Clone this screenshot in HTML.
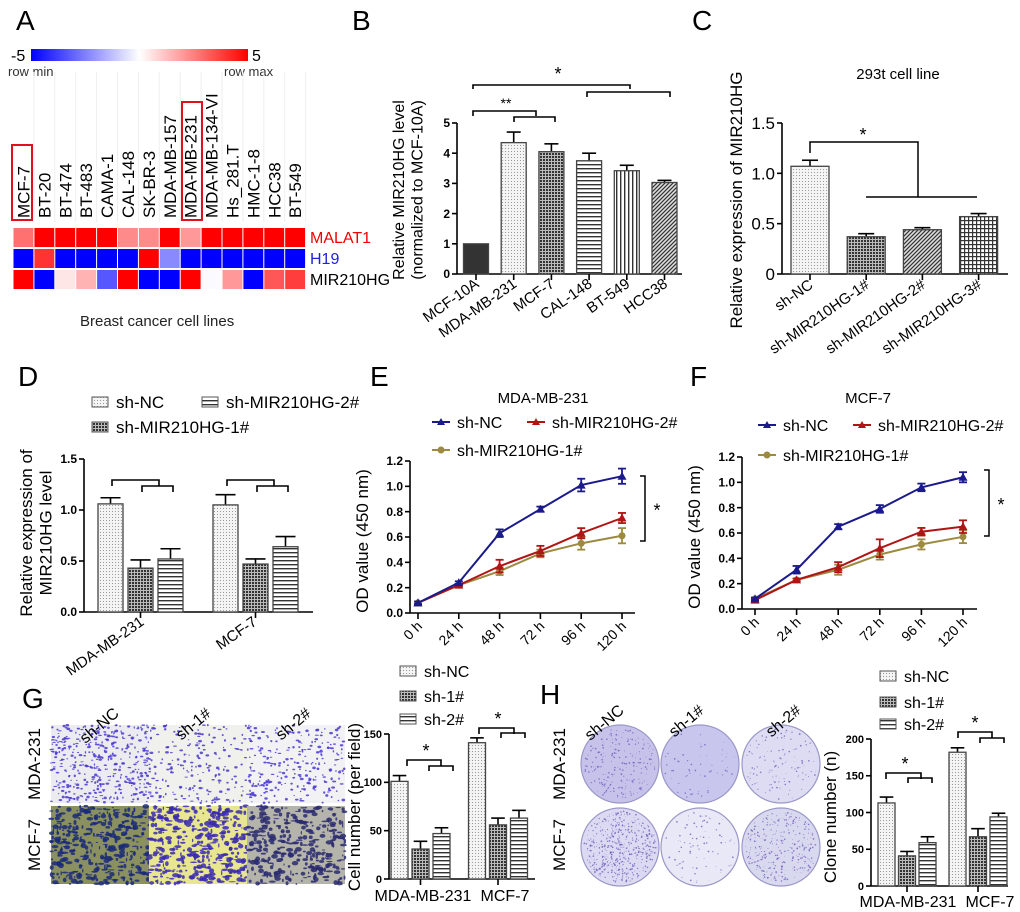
<!DOCTYPE html>
<html><head><meta charset="utf-8"><style>
html,body{margin:0;padding:0;background:#fff;}
svg{display:block;font-family:"Liberation Sans",Arial,sans-serif;}
</style></head><body>
<svg id="fig" width="1020" height="912" viewBox="0 0 1020 912" xmlns="http://www.w3.org/2000/svg">
<defs>
<pattern id="p-dots" width="3" height="3" patternUnits="userSpaceOnUse"><rect width="3" height="3" fill="#f4f4f4"/><rect x="1" y="1" width="1" height="1" fill="#999"/></pattern>
<pattern id="p-cross" width="3" height="3" patternUnits="userSpaceOnUse"><rect width="3" height="3" fill="#bbb"/><rect width="2" height="2" fill="#333"/></pattern>
<pattern id="p-hstripe" width="4" height="4" patternUnits="userSpaceOnUse"><rect width="4" height="4" fill="#fff"/><rect y="0" width="4" height="1.4" fill="#333"/></pattern>
<pattern id="p-vstripe" width="4" height="4" patternUnits="userSpaceOnUse"><rect width="4" height="4" fill="#fff"/><rect x="0" width="1.4" height="4" fill="#333"/></pattern>
<pattern id="p-diag" width="4" height="4" patternUnits="userSpaceOnUse"><rect width="4" height="4" fill="#ddd"/><path d="M-1,1 L1,-1 M0,4 L4,0 M3,5 L5,3" stroke="#333" stroke-width="1.2"/></pattern>
<pattern id="p-grid" width="4" height="4" patternUnits="userSpaceOnUse"><rect width="4" height="4" fill="#fff"/><rect width="4" height="1.2" fill="#333"/><rect width="1.2" height="4" fill="#333"/></pattern>
<linearGradient id="cbar" x1="0" x2="1" y1="0" y2="0"><stop offset="0" stop-color="#0000ff"/><stop offset="0.5" stop-color="#ffffff"/><stop offset="1" stop-color="#ff0000"/></linearGradient>
</defs>

<g>
<text x="16" y="30" font-size="28">A</text>
<rect x="31" y="49" width="217" height="12" fill="url(#cbar)"/>
<text x="11" y="61" font-size="16">-5</text>
<text x="252" y="61" font-size="16">5</text>
<text x="8" y="76" font-size="13" fill="#333">row min</text>
<text x="224" y="76" font-size="13" fill="#333">row max</text>
<text x="80" y="326" font-size="15" fill="#222">Breast cancer cell lines</text>
<g id="heat"></g>
</g>

<text x="352" y="30" font-size="28">B</text>
<text x="692" y="30" font-size="28">C</text>
<text x="18" y="386" font-size="28">D</text>
<text x="370" y="386" font-size="28">E</text>
<text x="690" y="386" font-size="28">F</text>
<text x="22" y="708" font-size="28">G</text>
<text x="540" y="704" font-size="28">H</text>

<text x="898" y="79" font-size="15" text-anchor="middle">293t cell line</text>
<text x="543" y="403" font-size="15" text-anchor="middle">MDA-MB-231</text>
<text x="868" y="403" font-size="15" text-anchor="middle">MCF-7</text>

<g id="images"></g>
<g id="charts"></g>
</svg>
<script>
// ---------- DATA ----------
const heatCols=['MCF-7','BT-20','BT-474','BT-483','CAMA-1','CAL-148','SK-BR-3','MDA-MB-157','MDA-MB-231','MDA-MB-134-VI','Hs_281.T','HMC-1-8','HCC38','BT-549'];
const heatRows=['MALAT1','H19','MIR210HG'];
const heatMALAT1=[2.8,5,5,5,5,2.3,2.3,5,2,5,5,5,5,5];
const heatH19=[-5,4,-5,-5,-5,-5,5,-2.3,-5,-5,-5,-5,-5,-5];
const heatMIR210HG=[5,-5,0.5,1.5,-3.3,5,-5,-5,5,-0.1,2,-5,3.3,3.8];

const bCats=['MCF-10A','MDA-MB-231','MCF-7','CAL-148','BT-549','HCC38'];
const bVals=[1.0,4.35,4.05,3.75,3.42,3.03];
const bErr=[0,0.35,0.26,0.25,0.18,0.07];
const bTicks=[0,1,2,3,4,5];

const cCats=['sh-NC','sh-MIR210HG-1#','sh-MIR210HG-2#','sh-MIR210HG-3#'];
const cVals=[1.07,0.37,0.44,0.57];
const cErr=[0.06,0.03,0.02,0.03];
const cTicks=[0,0.5,1.0,1.5];

const dGroups=['MDA-MB-231','MCF-7'];
const dNC=[1.06,1.05];
const d1=[0.43,0.47];
const d2=[0.52,0.64];
const dNCerr=[0.06,0.10];
const d1err=[0.08,0.05];
const d2err=[0.10,0.10];
const dTicks=[0,0.5,1.0,1.5];

const timeCats=['0 h','24 h','48 h','72 h','96 h','120 h'];
const odTicks=[0,0.2,0.4,0.6,0.8,1.0,1.2];
const eNC=[0.08,0.24,0.63,0.82,1.01,1.08];
const e2=[0.08,0.22,0.37,0.49,0.63,0.75];
const e1=[0.08,0.22,0.33,0.47,0.55,0.61];
const eNCerr=[0.01,0.01,0.03,0.02,0.05,0.06];
const e2err=[0.01,0.01,0.05,0.04,0.04,0.04];
const e1err=[0.01,0.01,0.03,0.03,0.05,0.06];
const fNC=[0.08,0.31,0.65,0.79,0.96,1.04];
const f2=[0.07,0.23,0.33,0.48,0.61,0.65];
const f1=[0.08,0.23,0.31,0.43,0.51,0.57];
const fNCerr=[0.01,0.03,0.02,0.03,0.03,0.04];
const f2err=[0.01,0.01,0.04,0.07,0.03,0.05];
const f1err=[0.01,0.01,0.04,0.04,0.04,0.05];

const gGroups=['MDA-MB-231','MCF-7'];
const gNC=[101,141];
const g1=[31,56];
const g2=[47,63];
const gNCerr=[6,5];
const g1err=[8,7];
const g2err=[6,8];
const gTicks=[0,50,100,150];

const hGroups=['MDA-MB-231','MCF-7'];
const hNC=[113,182];
const h1=[41,67];
const h2=[59,94];
const hNCerr=[8,6];
const h1err=[6,11];
const h2err=[8,5];
const hTicks=[0,50,100,150,200];

// ---------- HELPERS ----------
const NS='http://www.w3.org/2000/svg';
function mk(parent,tag,attrs,txt){const e=document.createElementNS(NS,tag);for(const k in attrs)e.setAttribute(k,attrs[k]);if(txt!==undefined)e.textContent=txt;parent.appendChild(e);return e;}
const charts=document.getElementById('charts');
function line(p,x1,y1,x2,y2,w,c){return mk(p,'line',{x1,y1,x2,y2,stroke:c||'#000','stroke-width':w||1.5});}

function yAxis(g,ax,y0,yTop,vmax,ticks,fmt,fs,bold){
  const sy=v=>y0-(v/vmax)*(y0-yTop);
  const a=line(g,ax,y0,ax,yTop,1.6);
  
  
  ticks.forEach(t=>{
    line(g,ax-5,sy(t),ax,sy(t),1.6);
    const tx=mk(g,'text',{x:ax-7,y:sy(t)+fs*0.35,'font-size':fs,'text-anchor':'end','font-weight':bold?'bold':'normal'},fmt(t));
    
    
  });
  return sy;
}
function bar(g,x,w,y0,yv,fill,name){
  const r=mk(g,'rect',{x:x-w/2,y:yv,width:w,height:y0-yv,fill:fill,stroke:'#444','stroke-width':1.3});
  
  
  return r;
}
function errUp(g,x,yv,ye,cap){line(g,x,yv,x,ye,1.6);line(g,x-cap,ye,x+cap,ye,1.6);}
function ylabel(g,x,y,lines,fs,name){
  const t=mk(g,'text',{transform:`translate(${x},${y}) rotate(-90)`,'font-size':fs,'text-anchor':'middle'});
  lines.forEach((l,i)=>mk(t,'tspan',{x:0,dy:i?fs*1.15:0},l));
  
  
}
function rotLabel(g,x,y,txt,fs,ang,name){
  const t=mk(g,'text',{transform:`translate(${x},${y}) rotate(${ang})`,'font-size':fs,'text-anchor':'end'},txt);
  
  
}
function bracket(g,x1,x2,y,drop){const p=mk(g,'path',{d:`M${x1},${y+drop} L${x1},${y} L${x2},${y} L${x2},${y+drop}`,fill:'none',stroke:'#000','stroke-width':1.6});}
function star(g,x,y,s,fs){const t=mk(g,'text',{x,y,'font-size':fs||18,'text-anchor':'middle'},s);}

// ---------- HEATMAP ----------
(function(){
  const g=document.getElementById('heat');
  const x0=13,cw=20.9;
  const rowsData=[heatMALAT1,heatH19,heatMIR210HG];
  const rowY=[228,249,270],rh=19;
  function col(v){const t=Math.min(1,Math.abs(v)/5);const m=Math.round(255*(1-t));return v>=0?`rgb(255,${m},${m})`:`rgb(${m},${m},255)`;}
  heatCols.forEach((c,i)=>{
    const cx=x0+cw*i+cw/2;
    line(g,x0+cw*(i+1),72,x0+cw*(i+1),222,1,'#eee');
    const t=mk(g,'text',{transform:`translate(${cx+6},218) rotate(-90)`,'font-size':17},c);
    
    
  });
  rowsData.forEach((arr,r)=>{
    arr.forEach((v,i)=>{
      const rc=mk(g,'rect',{x:x0+cw*i+0.5,y:rowY[r],width:cw-1,height:rh,fill:col(v)});
      
      
    });
    const t=mk(g,'text',{x:310,y:rowY[r]+15,'font-size':16,fill:['#f00000','#2020e0','#000'][r]},heatRows[r]);
    
    
  });
  const b1=mk(g,'rect',{x:12,y:145,width:20,height:75,fill:'none',stroke:'#e01020','stroke-width':2});
  
  
  const b2=mk(g,'rect',{x:182,y:102,width:20,height:118,fill:'none',stroke:'#e01020','stroke-width':2});
  
  
})();

// ---------- CHART B ----------
(function(){
  const g=mk(charts,'g',{});
  
  
  const fills=['#333','url(#p-dots)','url(#p-cross)','url(#p-hstripe)','url(#p-vstripe)','url(#p-diag)'];
  const sy=yAxis(g,457,274,123,5,bTicks,t=>String(t),12,true);
  line(g,457,274,682,274,1.6);
  const sx=i=>476+i*37.7;
  bCats.forEach((c,i)=>{
    const x=sx(i);
    if(bErr[i]>0)errUp(g,x,sy(bVals[i]),sy(bVals[i]+bErr[i]),7);
    bar(g,x,25,274,sy(bVals[i]),fills[i],'bar-'+c.toLowerCase());
    line(g,x,274,x,280,1.6);
    rotLabel(g,x+4,286,c,15,-35,'x-tick-label');
  });
  ylabel(g,404,190,['Relative MIR210HG level','(normalized to MCF-10A)'],16,'y-axis-title');
  bracket(g,473,630,85,4);bracket(g,587,670,92,5);star(g,558,80,'*');
  bracket(g,473,536,111,5);bracket(g,514,555,117,5);star(g,506,108,'**',14);
})();

// ---------- CHART C ----------
(function(){
  const g=mk(charts,'g',{});
  
  
  const fills=['url(#p-dots)','url(#p-cross)','url(#p-diag)','url(#p-grid)'];
  const sy=yAxis(g,782,274,123,1.5,cTicks,t=>t===0?'0':t.toFixed(1),17,false);
  line(g,782,274,1008,274,1.6);
  const sx=i=>810+i*56.2;
  cCats.forEach((c,i)=>{
    const x=sx(i);
    errUp(g,x,sy(cVals[i]),sy(cVals[i]+cErr[i]),8);
    bar(g,x,38,274,sy(cVals[i]),fills[i],'bar-'+c.toLowerCase());
    line(g,x,274,x,280,1.6);
    rotLabel(g,x+4,287,c,15,-35,'x-tick-label');
  });
  ylabel(g,742,200,['Relative expression of MIR210HG'],17,'y-axis-title');
  const p=mk(g,'path',{d:'M810,153 L810,142 L918,142 L918,197 M866,197 L977,197',fill:'none',stroke:'#000','stroke-width':1.5});
  
  
  star(g,863,141,'*');
})();

// ---------- GROUPED BAR helper ----------
function grouped(cfg){
  const g=mk(charts,'g',{});
  
  
  const sy=yAxis(g,cfg.ax,cfg.y0,cfg.yTop,cfg.vmax,cfg.ticks,cfg.fmt,cfg.fs||12,true);
  line(g,cfg.ax,cfg.y0,cfg.axR,cfg.y0,1.6);
  const fills=['url(#p-dots)','url(#p-cross)','url(#p-hstripe)'];
  cfg.groups.forEach((gr,j)=>{
    const cx=cfg.gx[j];
    cfg.series.forEach((s,k)=>{
      const x=cx+cfg.off*(k-1);
      errUp(g,x,sy(s[j]),sy(s[j]+cfg.errs[k][j]),cfg.w/2.5);
      bar(g,x,cfg.w,cfg.y0,sy(s[j]),fills[k],'bar-'+gr.toLowerCase()+'-'+cfg.snames[k]);
    });
    line(g,cx,cfg.y0,cx,cfg.y0+6,1.6);
  });
  return {g,sy};
}
function legendItem(g,x,y,fill,label,fs,name){
  mk(g,'rect',{x:x,y:y-11,width:16,height:10,fill:fill,stroke:'#555','stroke-width':1});
  const t=mk(g,'text',{x:x+24,y:y,'font-size':fs},label);
  
  
}

// ---------- CHART D ----------
(function(){
  const r=grouped({name:'chart-d',ax:84,axR:313,y0:612,yTop:459,vmax:1.5,ticks:dTicks,fmt:t=>t.toFixed(1),groups:dGroups,gx:[140.5,255.5],off:30,w:25,series:[dNC,d1,d2],errs:[dNCerr,d1err,d2err],snames:['sh-nc','sh-1','sh-2']});
  const g=r.g;
  dGroups.forEach((c,j)=>rotLabel(g,[145,258][j],624,c,15,-35,'x-tick-label'));
  ylabel(g,32,533,['Relative expression of','MIR210HG level'],17,'y-axis-title');
  [0,115].forEach(o=>{bracket(g,112+o,159+o,480,6);bracket(g,142+o,173+o,486,6);});
  legendItem(g,92,408,'url(#p-dots)','sh-NC',17,'legend-sh-nc');
  legendItem(g,202,408,'url(#p-hstripe)','sh-MIR210HG-2#',17,'legend-sh-2');
  legendItem(g,92,433,'url(#p-cross)','sh-MIR210HG-1#',17,'legend-sh-1');
})();

// ---------- LINE CHARTS ----------
function lineChart(cfg){
  const g=mk(charts,'g',{});
  
  
  const sy=yAxis(g,cfg.ax,cfg.y0,cfg.yTop,1.2,odTicks,t=>t.toFixed(1),12,true);
  line(g,cfg.ax,cfg.y0,cfg.axR,cfg.y0,1.6);
  const sx=i=>cfg.x0+i*cfg.dx;
  timeCats.forEach((c,i)=>{line(g,sx(i),cfg.y0,sx(i),cfg.y0+6,1.6);rotLabel(g,sx(i)+5,cfg.y0+14,c,14,-45,'x-tick-label');});
  const colors=['#1a1a8c','#b01515','#9c8a40'];
  const names=['sh-nc','sh-2','sh-1'];
  [2,1,0].forEach(k=>{
    const data=[cfg.s0,cfg.s1,cfg.s2][k], err=cfg.errs[k];
    const pts=data.map((v,i)=>sx(i)+','+sy(v)).join(' ');
    const pl=mk(g,'polyline',{points:pts,fill:'none',stroke:colors[k],'stroke-width':2});
    
    
    data.forEach((v,i)=>{
      const x=sx(i);
      line(g,x,sy(v-err[i]),x,sy(v+err[i]),1.8,colors[k]);
      line(g,x-4,sy(v-err[i]),x+4,sy(v-err[i]),1.8,colors[k]);
      line(g,x-4,sy(v+err[i]),x+4,sy(v+err[i]),1.8,colors[k]);
      let m;
      if(k===2)m=mk(g,'circle',{cx:x,cy:sy(v),r:3.5,fill:colors[k]});
      else m=mk(g,'path',{d:`M${x},${sy(v)-4.5} L${x+4.5},${sy(v)+3.5} L${x-4.5},${sy(v)+3.5}Z`,fill:colors[k]});
      
      
    });
  });
  ylabel(g,cfg.ax-42,(cfg.y0+cfg.yTop)/2+4,['OD value (450 nm)'],17,'y-axis-title');
  const L=cfg.leg;
  function li(x,y,k,label){
    line(g,x,y,x+18,y,2,colors[k]);
    if(k===2)mk(g,'circle',{cx:x+9,cy:y,r:3.5,fill:colors[k]});
    else mk(g,'path',{d:`M${x+9},${y-4} L${x+13},${y+3} L${x+5},${y+3}Z`,fill:colors[k]});
    const t=mk(g,'text',{x:x+25,y:y+6,'font-size':16},label);
    
    
  }
  li(L[0],L[1],0,'sh-NC');li(L[2],L[1],1,'sh-MIR210HG-2#');li(L[0],L[3],2,'sh-MIR210HG-1#');
  const b=cfg.br;
  const p=mk(g,'path',{d:`M${b[0]-5},${b[1]} L${b[0]},${b[1]} L${b[0]},${b[2]} L${b[0]-5},${b[2]}`,fill:'none',stroke:'#000','stroke-width':1.5});
  
  
  star(g,b[0]+12,(b[1]+b[2])/2+8,'*');
}
lineChart({name:'chart-e',ax:410,axR:635,y0:613,yTop:461,x0:418,dx:40.8,s0:eNC,s1:e2,s2:e1,errs:[eNCerr,e2err,e1err],leg:[432,422,527,450],br:[645,476,541]});
lineChart({name:'chart-f',ax:742,axR:977,y0:609,yTop:457,x0:755,dx:41.6,s0:fNC,s1:f2,s2:f1,errs:[fNCerr,f2err,f1err],leg:[758,425,853,455],br:[989,470,536]});

// ---------- CHART G ----------
(function(){
  const r=grouped({name:'chart-g',ax:389,axR:535,y0:879,yTop:734,vmax:150,ticks:gTicks,fmt:t=>String(t),fs:11,groups:gGroups,gx:[420.5,498],off:21,w:17,series:[gNC,g1,g2],errs:[gNCerr,g1err,g2err],snames:['sh-nc','sh-1','sh-2']});
  const g=r.g;
  [['MDA-MB-231',423],['MCF-7',505]].forEach(a=>{const t=mk(g,'text',{x:a[1],y:901,'font-size':16,'text-anchor':'middle'},a[0]);});
  ylabel(g,360,807,['Cell number (per field)'],17,'y-axis-title');
  bracket(g,407,441,760,6);bracket(g,429,453,766,5);star(g,426,757,'*');
  bracket(g,479,514,728,6);bracket(g,501,525,733,5);star(g,498,725,'*');
  legendItem(g,400,677,'url(#p-dots)','sh-NC',16,'legend-sh-nc');
  legendItem(g,400,702,'url(#p-cross)','sh-1#',16,'legend-sh-1');
  legendItem(g,400,725,'url(#p-hstripe)','sh-2#',16,'legend-sh-2');
})();

// ---------- CHART H ----------
(function(){
  const r=grouped({name:'chart-h',ax:871,axR:1008,y0:886,yTop:739,vmax:200,ticks:hTicks,fmt:t=>String(t),fs:11,groups:hGroups,gx:[907,978],off:20.5,w:17,series:[hNC,h1,h2],errs:[hNCerr,h1err,h2err],snames:['sh-nc','sh-1','sh-2']});
  const g=r.g;
  [['MDA-MB-231',908],['MCF-7',990]].forEach(a=>{const t=mk(g,'text',{x:a[1],y:907,'font-size':16,'text-anchor':'middle'},a[0]);});
  ylabel(g,836,817,['Clone number (n)'],17,'y-axis-title');
  bracket(g,886,921,773,6);bracket(g,908,932,778,5);star(g,905,770,'*');
  bracket(g,958,992,732,6);bracket(g,980,1004,738,5);star(g,975,729,'*');
  legendItem(g,880,682,'url(#p-dots)','sh-NC',16,'legend-sh-nc');
  legendItem(g,880,708,'url(#p-cross)','sh-1#',16,'legend-sh-1');
  legendItem(g,880,730,'url(#p-hstripe)','sh-2#',16,'legend-sh-2');
})();

// ---------- IMAGES (decorative) ----------
(function(){
  const g=document.getElementById('images');
  let seed=7;const rnd=()=>{seed=(seed*9301+49297)%233280;return seed/233280;};
  const bgs=[['#ececf0','#f0f0ec','#f2f2f4'],['#8a9060','#e8e690','#b4b4aa']];
  const dens=[[420,200,260],[380,380,340]];
  const dots=[['#4a3ad0','#4a3ad0','#4a3ad0'],['#1a2a7a','#3a2ab0','#2a2a70']];
  for(let r=0;r<2;r++)for(let c=0;c<3;c++){
    const x=51+c*98,y=725+r*81,w=98,h=78;
    const pg=mk(g,'g',{});
    
    
    mk(pg,'rect',{x,y,width:w,height:h,fill:bgs[r][c]});
    for(let i=0;i<dens[r][c];i++)mk(pg,'ellipse',{cx:x+rnd()*w,cy:y+rnd()*h,rx:0.6+rnd()*(r?3:1.4),ry:0.5+rnd()*(r?2:0.9),fill:dots[r][c],opacity:0.85});
  }
  [['sh-NC',120],['sh-1#',212],['sh-2#',312]].forEach(a=>rotLabel(g,a[1],715,a[0],16,-40,'image-column-label'));
  [['MDA-231',764],['MCF-7',845]].forEach(a=>{const t=mk(g,'text',{transform:`translate(40,${a[1]}) rotate(-90)`,'font-size':17,'text-anchor':'middle'},a[0]);});
  const pf=[['#c6c2ea','#c8c6ec','#dedcf2'],['#dcdaf2','#e8e8f6','#d8d8ee']];
  const pd=[[220,60,120],[500,80,300]];
  [620,700,781].forEach((cx,c)=>[764,847].forEach((cy,r)=>{
    const pg=mk(g,'g',{});
    
    
    mk(pg,'circle',{cx,cy,r:39,fill:pf[r][c],stroke:'#9a98c8','stroke-width':1.2});
    for(let i=0;i<pd[r][c];i++){const a=rnd()*6.283,d=Math.sqrt(rnd())*36;mk(pg,'circle',{cx:cx+Math.cos(a)*d,cy:cy+Math.sin(a)*d,r:0.3+rnd()*0.6,fill:'#6050b8',opacity:0.7});}
  }));
  [['sh-NC',625],['sh-1#',705],['sh-2#',802]].forEach(a=>rotLabel(g,a[1],712,a[0],16,-40,'plate-column-label'));
  [['MDA-231',764],['MCF-7',845]].forEach(a=>{const t=mk(g,'text',{transform:`translate(565,${a[1]}) rotate(-90)`,'font-size':17,'text-anchor':'middle'},a[0]);});
})();
</script>
</body></html>
